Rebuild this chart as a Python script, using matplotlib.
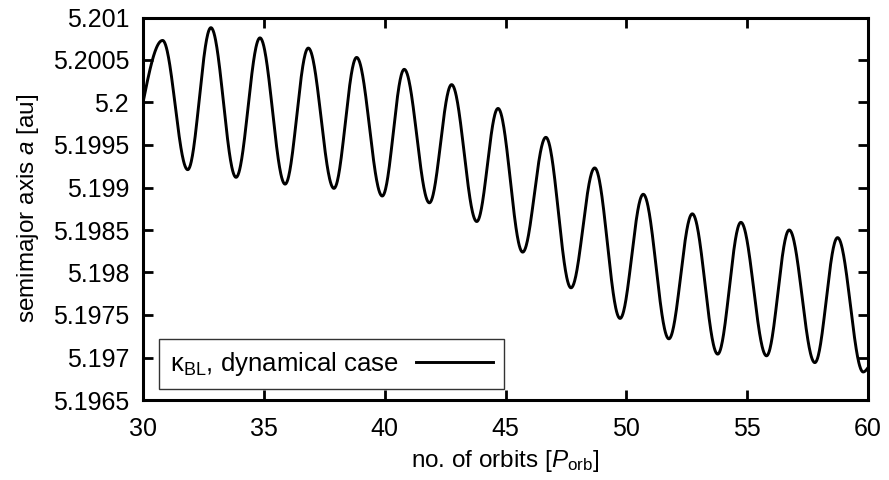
import numpy as np
import matplotlib
matplotlib.use("Agg")
import matplotlib.pyplot as plt

# ---- data (extrema of the oscillation) ----
start_x = 30.0
start_y = 5.20000
peak_x = [30.81, 32.81, 34.84, 36.84, 38.84, 40.81, 42.77, 44.69, 46.67,
          48.69, 50.70, 52.73, 54.74, 56.74, 58.74]
peak_y = [5.20073, 5.20088, 5.20076, 5.20064, 5.20053, 5.20039, 5.20021,
          5.19993, 5.19959, 5.19923, 5.19892, 5.19869, 5.19859, 5.19850,
          5.19841]
trough_x = [31.85, 33.85, 35.88, 37.90, 39.90, 41.85, 43.81, 45.71, 47.71,
            49.74, 51.76, 53.78, 55.80, 57.80, 59.80]
trough_y = [5.19921, 5.19912, 5.19904, 5.19899, 5.19890, 5.19882, 5.19860,
            5.19824, 5.19782, 5.19746, 5.19722, 5.19704, 5.19702, 5.19694,
            5.19683]
end_x = 60.0
end_y = 5.19688

xticks = [30, 35, 40, 45, 50, 55, 60]
yticks = [5.1965, 5.197, 5.1975, 5.198, 5.1985, 5.199, 5.1995, 5.2,
          5.2005, 5.201]
ytick_labels = ["5.1965", "5.197", "5.1975", "5.198", "5.1985", "5.199",
                "5.1995", "5.2", "5.2005", "5.201"]
legend_label = r"κ$_{\mathrm{BL}}$, dynamical case"

# ---- build smooth curve through the extrema ----
ext_x = []
ext_y = []
for px, py, tx, ty in zip(peak_x, peak_y, trough_x, trough_y):
    ext_x += [px, tx]
    ext_y += [py, ty]

xs = []
ys = []
# initial rise from the starting value to the first peak (quarter sine)
t = np.linspace(0, 1, 40)
xs.append(start_x + (ext_x[0] - start_x) * t)
ys.append(start_y + (ext_y[0] - start_y) * np.sin(0.5 * np.pi * t))
for i in range(len(ext_x) - 1):
    t = np.linspace(0, 1, 60)[1:]
    xs.append(ext_x[i] + (ext_x[i + 1] - ext_x[i]) * t)
    ys.append(ext_y[i] + (ext_y[i + 1] - ext_y[i]) * (1 - np.cos(np.pi * t)) / 2)
t = np.linspace(0, 1, 10)[1:]
xs.append(ext_x[-1] + (end_x - ext_x[-1]) * t)
ys.append(ext_y[-1] + (end_y - ext_y[-1]) * (1 - np.cos(0.5 * np.pi * t)))
x = np.concatenate(xs)
y = np.concatenate(ys)

# ---- style ----
plt.rcParams["font.family"] = ["Liberation Sans", "DejaVu Sans"]
plt.rcParams["mathtext.fontset"] = "custom"
plt.rcParams["mathtext.rm"] = "Liberation Sans"
plt.rcParams["mathtext.it"] = "Liberation Sans:italic"
plt.rcParams["mathtext.bf"] = "Liberation Sans:bold"

FS = 18

fig = plt.figure(figsize=(8.89, 4.80), dpi=100)
ax = fig.add_axes([143 / 889, 1 - 400 / 480, 725 / 889, 382.5 / 480])

ax.plot(x, y, color="black", lw=2.1, label=legend_label)

ax.set_xlim(30, 60)
ax.set_ylim(5.1965, 5.201)
ax.set_xticks(xticks)
ax.set_xticklabels([str(v) for v in xticks])
ax.set_yticks(yticks)
ax.set_yticklabels(ytick_labels)

for s in ax.spines.values():
    s.set_linewidth(2.2)
ax.tick_params(direction="in", length=7, width=2.0, top=True, right=True,
               labelsize=FS)
ax.tick_params(axis="y", pad=10)
ax.tick_params(axis="x", pad=12)

ax.set_xlabel(r"no. of orbits [$P_{\mathrm{orb}}$]", fontsize=17.5, labelpad=5)
ax.set_ylabel(r"semimajor axis $a$ [au]", fontsize=17.5, labelpad=8)

leg = ax.legend(loc="lower left", bbox_to_anchor=(0.022, 0.029),
                borderaxespad=0, markerfirst=False, fancybox=False,
                frameon=True, fontsize=18.5, handlelength=3.0,
                handletextpad=0.7, borderpad=0.42)
leg.get_frame().set_edgecolor("black")
leg.get_frame().set_linewidth(1.0)

fig.savefig("out.png", dpi=100)
